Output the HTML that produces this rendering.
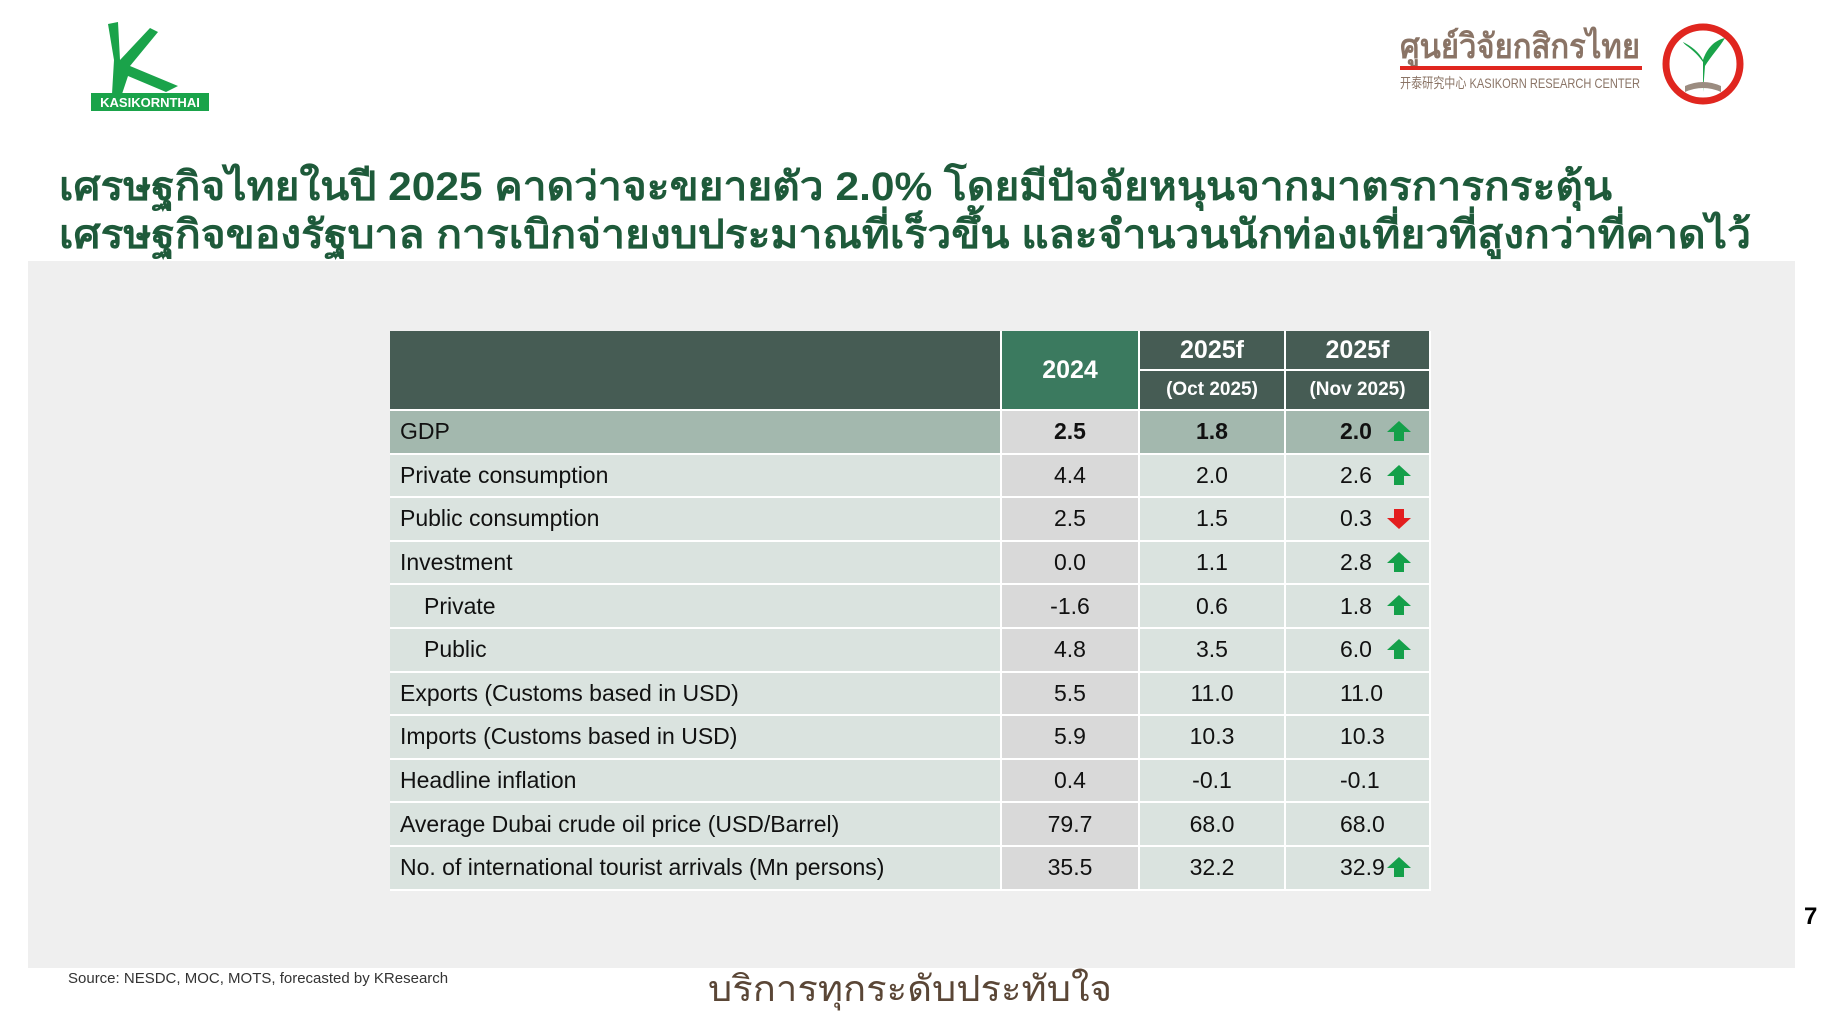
<!DOCTYPE html>
<html><head><meta charset="utf-8"><style>
*{margin:0;padding:0;box-sizing:border-box}
body{width:1827px;height:1020px;background:#fff;position:relative;overflow:hidden;font-family:"Liberation Sans",Arial,sans-serif}
.a{position:absolute}
.c{position:absolute;display:flex;align-items:center;border-right:2px solid #fff;border-bottom:2px solid #fff;font-size:23px;color:#111}
.ctr{justify-content:center}
.up,.dn{position:absolute;width:26px;height:22px}
</style></head><body>
<div class="a" style="left:28px;top:261px;width:1767px;height:707px;background:#efefef"></div>

<!-- left logo -->
<svg class="a" style="left:88px;top:20px" width="125" height="92" viewBox="0 0 125 92">
<path d="M20 4 L30 2 L32 40 L62 8 L70 12 L42 46 L90 66 L78 72 L40 56 L34 74 L24 74 L26 40 Z" fill="#1aa34a"/>
<rect x="3" y="73" width="118" height="18" fill="#1aa34a"/>
<text x="62" y="87" font-size="13" font-weight="bold" fill="#fff" text-anchor="middle" font-family="Liberation Sans">KASIKORNTHAI</text>
</svg>

<!-- right logo -->
<svg class="a" style="left:1395px;top:18px" width="355" height="92" viewBox="0 0 355 92">
<text x="5" y="40" font-size="34" font-weight="bold" fill="#8a7466" textLength="240" lengthAdjust="spacingAndGlyphs" font-family="sans-serif">ศูนย์วิจัยกสิกรไทย</text>
<rect x="5" y="48" width="242" height="4" fill="#e0261f"/>
<text x="5" y="70" font-size="14" fill="#8a7466" textLength="240" lengthAdjust="spacingAndGlyphs" font-family="Liberation Sans,Noto Sans CJK SC,sans-serif">开泰研究中心 KASIKORN RESEARCH CENTER</text>
<circle cx="308" cy="46" r="37" fill="#fff" stroke="#e0261f" stroke-width="7"/>
<path d="M308 74 L308 44 C298 30 290 28 288 24 C296 28 304 34 308 42 C312 30 320 22 330 20 C324 30 316 38 310 48 Z" fill="#1aa34a"/>
<path d="M290 68 Q308 60 326 68 L326 74 Q308 66 290 74 Z" fill="#9b8c80"/>
</svg>

<!-- title -->
<svg class="a" style="left:0;top:150px" width="1827" height="110">
<text x="59" y="50" font-size="40" font-weight="bold" fill="#1e5a3a" textLength="1553" lengthAdjust="spacingAndGlyphs" font-family="sans-serif">เศรษฐกิจไทยในปี 2025 คาดว่าจะขยายตัว 2.0% โดยมีปัจจัยหนุนจากมาตรการกระตุ้น</text>
<text x="59" y="98" font-size="40" font-weight="bold" fill="#1e5a3a" textLength="1692" lengthAdjust="spacingAndGlyphs" font-family="sans-serif">เศรษฐกิจของรัฐบาล การเบิกจ่ายงบประมาณที่เร็วขึ้น และจำนวนนักท่องเที่ยวที่สูงกว่าที่คาดไว้</text>
</svg>

<!-- table header -->
<div class="c" style="left:390px;top:331px;width:612px;height:80px;background:#465c54"></div>
<div class="c ctr" style="left:1002px;top:331px;width:138px;height:80px;background:#3b7a5f;color:#fff;font-weight:bold;font-size:25px">2024</div>
<div class="c ctr" style="left:1140px;top:331px;width:146px;height:40px;background:#465c54;color:#fff;font-weight:bold;font-size:25px">2025f</div>
<div class="c ctr" style="left:1286px;top:331px;width:145px;height:40px;background:#465c54;color:#fff;font-weight:bold;font-size:25px">2025f</div>
<div class="c ctr" style="left:1140px;top:371px;width:146px;height:40px;background:#465c54;color:#fff;font-weight:bold;font-size:19px">(Oct 2025)</div>
<div class="c ctr" style="left:1286px;top:371px;width:145px;height:40px;background:#465c54;color:#fff;font-weight:bold;font-size:19px">(Nov 2025)</div>

<div id="rows"></div>
<script>
var d=[["GDP","2.5","1.8","2.0","u",0,1],["Private consumption","4.4","2.0","2.6","u"],["Public consumption","2.5","1.5","0.3","d"],["Investment","0.0","1.1","2.8","u"],["Private","-1.6","0.6","1.8","u",1],["Public","4.8","3.5","6.0","u",1],["Exports (Customs based in USD)","5.5","11.0","11.0",""],["Imports (Customs based in USD)","5.9","10.3","10.3",""],["Headline inflation","0.4","-0.1","-0.1",""],["Average Dubai crude oil price (USD/Barrel)","79.7","68.0","68.0",""],["No. of international tourist arrivals (Mn persons)","35.5","32.2","32.9","u"]];
var h="",H=43.6;
d.forEach(function(r,i){var y=411+i*H,g=r[6],bg=g?"#a3b8ae":"#dae3df",fw=g?"font-weight:bold;":"";
h+='<div class="c" style="left:390px;top:'+y+'px;width:612px;height:'+H+'px;background:'+bg+';padding-left:'+(r[5]?34:10)+'px">'+r[0]+'</div>';
h+='<div class="c ctr" style="left:1002px;top:'+y+'px;width:138px;height:'+H+'px;background:#d9d9d9;'+fw+'">'+r[1]+'</div>';
h+='<div class="c ctr" style="left:1140px;top:'+y+'px;width:146px;height:'+H+'px;background:'+bg+';'+fw+'">'+r[2]+'</div>';
h+='<div class="c" style="left:1286px;top:'+y+'px;width:145px;height:'+H+'px;background:'+bg+';'+fw+'"><span class="a" style="left:54px">'+r[3]+'</span></div>';
if(r[4]=="u")h+='<svg class="up" style="left:1386px;top:'+(y+9)+'px" viewBox="0 0 26 22"><path d="M13 1 L25 12 L18 12 L18 21 L8 21 L8 12 L1 12 Z" fill="#14a04a"/></svg>';
if(r[4]=="d")h+='<svg class="dn" style="left:1386px;top:'+(y+10)+'px" viewBox="0 0 26 22"><path d="M8 1 L18 1 L18 10 L25 10 L13 21 L1 10 L8 10 Z" fill="#e31e1e"/></svg>';
});
document.getElementById("rows").innerHTML=h;
</script>

<div class="a" style="left:1804px;top:903px;font-size:24px;font-weight:bold">7</div>
<div class="a" style="left:68px;top:970px;font-size:15px;color:#333">Source: NESDC, MOC, MOTS, forecasted by KResearch</div>
<svg class="a" style="left:700px;top:965px" width="420" height="50">
<text x="8" y="36" font-size="36" fill="#5a4636" textLength="404" lengthAdjust="spacingAndGlyphs" font-family="sans-serif">บริการทุกระดับประทับใจ</text>
</svg>
</body></html>
